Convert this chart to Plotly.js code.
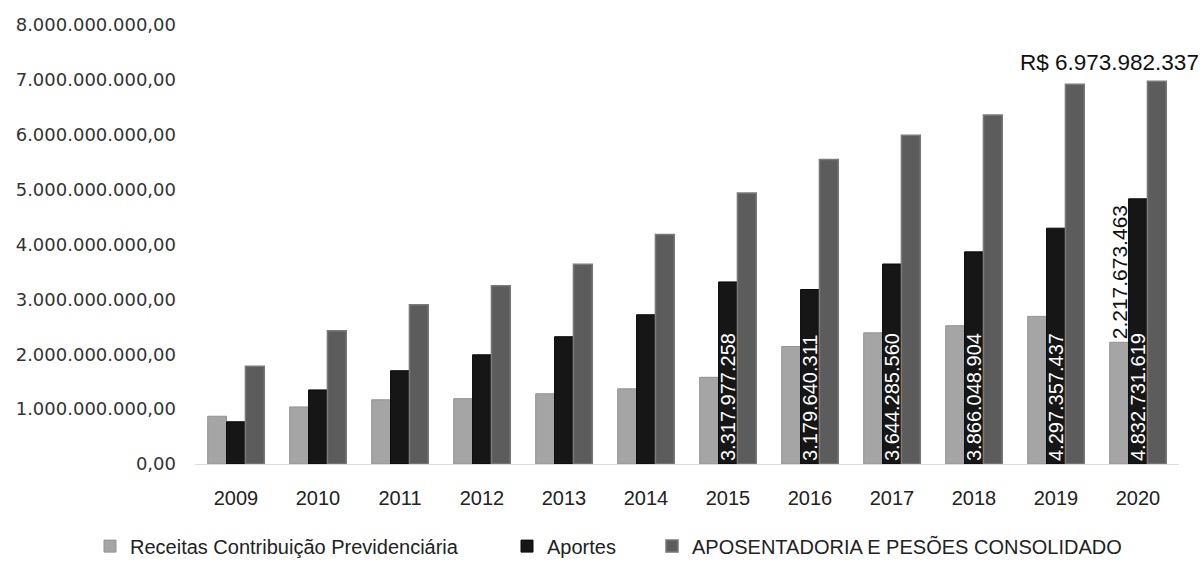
<!DOCTYPE html>
<html>
<head>
<meta charset="utf-8">
<script src="https://cdn.plot.ly/plotly-3.0.1.min.js"></script>
<style>
  html, body { margin: 0; padding: 0; background: #ffffff; }
  #chart { width: 1204px; height: 563px; }
</style>
</head>
<body>
<div id="chart"></div>
<script>
// ---- data ----
const years = ['2009','2010','2011','2012','2013','2014','2015','2016','2017','2018','2019','2020'];
const receitas = [870000000, 1040000000, 1170000000, 1190000000, 1280000000, 1370000000,
                  1580000000, 2140000000, 2390000000, 2520000000, 2690000000, 2217673463];
const aportes  = [770000000, 1350000000, 1700000000, 1990000000, 2320000000, 2720000000,
                  3317977258, 3179640311, 3644285560, 3866048904, 4297357437, 4832731619];
const aposentadoria = [1780000000, 2430000000, 2900000000, 3250000000, 3640000000, 4180000000,
                  4940000000, 5550000000, 5990000000, 6360000000, 6920000000, 6973982337];
const seriesNames = ['Receitas Contribuição Previdenciária', 'Aportes', 'APOSENTADORIA E PESÕES CONSOLIDADO'];
const labeledAportesYears = ['2015','2016','2017','2018','2019','2020'];
const labeledReceitasYears = ['2020'];
const highlightYear = '2020';
const yTicks = [0, 1e9, 2e9, 3e9, 4e9, 5e9, 6e9, 7e9, 8e9];

function fmtBR(v) {
  return Math.round(v).toString().replace(/\B(?=(\d{3})+(?!\d))/g, '.');
}

const FONT = 'Liberation Sans, Arial, sans-serif';
const TICKFONT = 'DejaVu Sans, Verdana, sans-serif';

const aportesText = years.map((y, i) => labeledAportesYears.includes(y) ? fmtBR(aportes[i]) : '');
const receitasText = years.map((y, i) => labeledReceitasYears.includes(y) ? fmtBR(receitas[i]) : '');

const traces = [
  {
    type: 'bar', name: seriesNames[0], x: years, y: receitas, legend: 'legend',
    text: receitasText, textposition: 'outside', textangle: -90, constraintext: 'none',
    cliponaxis: false,
    outsidetextfont: { family: FONT, size: 21, color: '#111111' },
    marker: { color: '#a5a5a5', line: { color: '#929292', width: 1 } },
    hoverinfo: 'x+y'
  },
  {
    type: 'bar', name: seriesNames[1], x: years, y: aportes, legend: 'legend2',
    text: aportesText, textposition: 'inside', insidetextanchor: 'start', textangle: -90,
    constraintext: 'none',
    insidetextfont: { family: FONT, size: 20, color: '#ffffff' },
    marker: { color: '#161616', line: { color: '#0a0a0a', width: 1 } },
    hoverinfo: 'x+y'
  },
  {
    type: 'bar', name: seriesNames[2], x: years, y: aposentadoria, legend: 'legend3',
    marker: { color: '#5c5c5c', line: { color: '#7a7a7a', width: 1.5 } },
    hoverinfo: 'x+y'
  }
];

const hi = years.indexOf(highlightYear);

function legendAt(px) {
  return {
    orientation: 'h', xref: 'container', yref: 'container',
    x: px / 1204, xanchor: 'left', y: 0.03, yanchor: 'middle',
    font: { family: FONT, size: 20, color: '#222222' },
    itemwidth: 30, bgcolor: 'rgba(0,0,0,0)'
  };
}

const layout = {
  width: 1204, height: 563,
  margin: { l: 195, r: 25, t: 25, b: 99 },
  paper_bgcolor: '#ffffff', plot_bgcolor: '#ffffff',
  separators: ',.',
  barmode: 'group', bargap: 0.31, bargroupgap: 0,
  font: { family: FONT, color: '#333333' },
  xaxis: {
    type: 'category', categoryarray: years, categoryorder: 'array',
    range: [-0.5, years.length - 0.5],
    showgrid: false, zeroline: false,
    showline: true, linecolor: '#dddddd', linewidth: 1,
    ticks: '', ticklabelstandoff: 16,
    tickfont: { family: FONT, size: 20, color: '#222222' }
  },
  yaxis: {
    range: [0, 8000000000], tickvals: yTicks,
    tickformat: ',.2f', showgrid: false, zeroline: false, showline: false,
    ticks: '', ticklabelstandoff: 18,
    tickfont: { family: TICKFONT, size: 18, color: '#333333' }
  },
  showlegend: true,
  legend: legendAt(90),
  legend2: legendAt(507),
  legend3: legendAt(652),
  annotations: [
    {
      x: hi, y: aposentadoria[hi], xref: 'x', yref: 'y',
      text: 'R$ ' + fmtBR(aposentadoria[hi]),
      showarrow: false, xanchor: 'right', yanchor: 'bottom',
      xshift: 63, yshift: 4,
      font: { family: FONT, size: 22.5, color: '#111111' }
    }
  ]
};

Plotly.newPlot('chart', traces, layout, { displayModeBar: false, staticPlot: true });
</script>
</body>
</html>
